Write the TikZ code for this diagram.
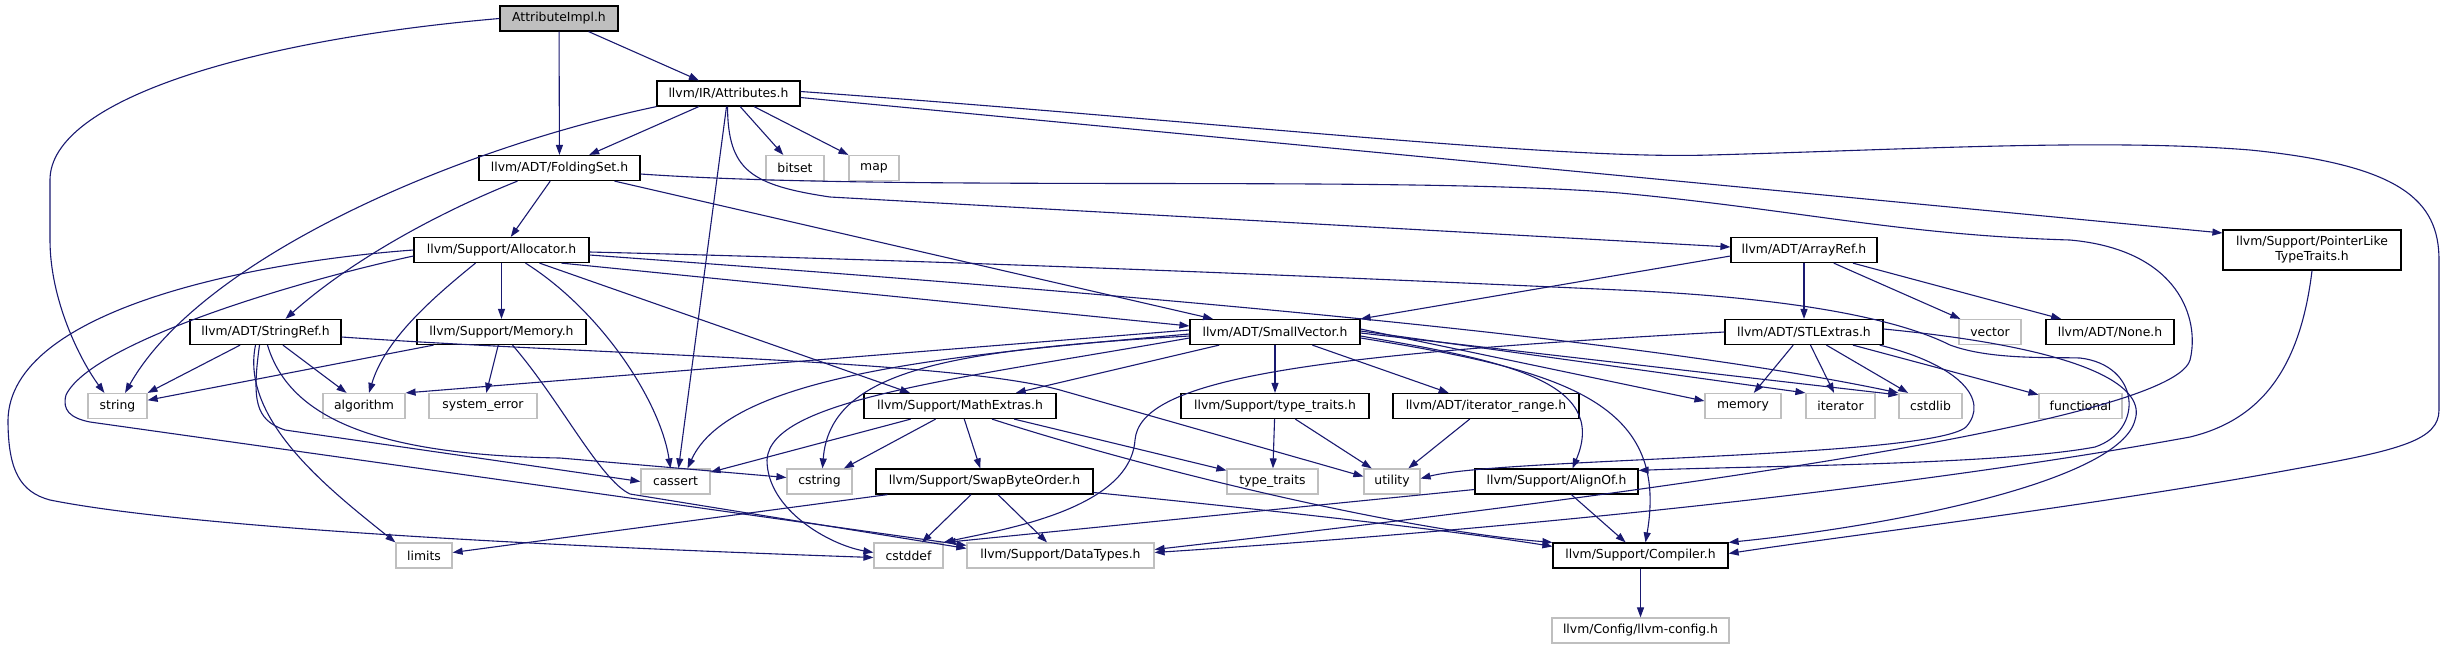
\documentclass[tikz,border=0pt]{standalone}
\usepackage{fontspec}
\setmainfont{DejaVu Sans}
\usetikzlibrary{arrows.meta}
\definecolor{edgeblue}{HTML}{191970}
\definecolor{boxgrey}{HTML}{BFBFBF}

\begin{document}
\begin{tikzpicture}[x=1pt,y=-1pt,
  every node/.style={font=\fontsize{12.4}{15}\selectfont,inner sep=0pt,align=center},
  hdr/.style={draw=black,line width=1.2pt,minimum height=25pt},
  sys/.style={draw=boxgrey,line width=1.2pt,minimum height=25pt},
  dep/.style={draw=edgeblue,line width=1.1pt,-{Triangle[length=10pt,width=7pt]}}]
\useasboundingbox (0,0) rectangle (2444,649);

% rank 0-3
\node[hdr,fill=boxgrey,minimum width=118pt] (ai) at (559,18.5) {AttributeImpl.h};
\node[hdr,minimum width=143pt] (attr) at (728.5,93.5) {llvm/IR/Attributes.h};
\node[hdr,minimum width=161pt] (fs) at (559.5,168) {llvm/ADT/FoldingSet.h};
\node[sys,minimum width=58pt] (bitset) at (795,168) {bitset};
\node[sys,minimum width=50pt] (map) at (874,168) {map};
\node[hdr,minimum width=175pt] (alloc) at (501.5,250) {llvm/Support/Allocator.h};
\node[hdr,minimum width=146pt] (ar) at (1804,250) {llvm/ADT/ArrayRef.h};
\node[hdr,minimum width=178pt,minimum height=40pt] (plt) at (2312,250) {llvm/Support/PointerLike\\TypeTraits.h};

% rank 4
\node[hdr,minimum width=151pt] (sref) at (265.5,332) {llvm/ADT/StringRef.h};
\node[hdr,minimum width=169pt] (mem) at (501.5,332) {llvm/Support/Memory.h};
\node[hdr,minimum width=170pt] (sv) at (1275,332) {llvm/ADT/SmallVector.h};
\node[hdr,minimum width=158pt] (stl) at (1804,332) {llvm/ADT/STLExtras.h};
\node[sys,minimum width=62pt] (vector) at (1990,332) {vector};
\node[hdr,minimum width=128pt] (none) at (2110,332) {llvm/ADT/None.h};

% rank 5
\node[sys,minimum width=59pt] (string) at (117.5,406) {string};
\node[sys,minimum width=82pt] (algo) at (364,406) {algorithm};
\node[sys,minimum width=108pt] (syserr) at (483,406) {system\_error};
\node[hdr,minimum width=192pt] (mathex) at (960,406) {llvm/Support/MathExtras.h};
\node[hdr,minimum width=188pt] (tth) at (1275,406) {llvm/Support/type\_traits.h};
\node[hdr,minimum width=186pt] (itr) at (1486,406) {llvm/ADT/iterator\_range.h};
\node[sys,minimum width=76pt] (memory) at (1743,406) {memory};
\node[sys,minimum width=69pt] (iterator) at (1840.5,406) {iterator};
\node[sys,minimum width=63pt] (cstdlib) at (1930.5,406) {cstdlib};
\node[sys,minimum width=83pt] (functional) at (2080.5,406) {functional};

% rank 6
\node[sys,minimum width=69pt] (cassert) at (675.5,481.5) {cassert};
\node[sys,minimum width=65pt] (cstring) at (819.5,481.5) {cstring};
\node[hdr,minimum width=217pt] (swap) at (984.5,481.5) {llvm/Support/SwapByteOrder.h};
\node[sys,minimum width=91pt] (tt) at (1272.5,481.5) {type\_traits};
\node[sys,minimum width=56pt] (utility) at (1392,481.5) {utility};
\node[hdr,minimum width=163pt] (alignof) at (1556.5,481.5) {llvm/Support/AlignOf.h};

% rank 7-8
\node[sys,minimum width=56pt] (limits) at (424,555.5) {limits};
\node[sys,minimum width=69pt] (cstddef) at (908.5,555.5) {cstddef};
\node[sys,minimum width=187pt] (dt) at (1060.5,555.5) {llvm/Support/DataTypes.h};
\node[hdr,minimum width=175pt] (comp) at (1640.5,555.5) {llvm/Support/Compiler.h};
\node[sys,minimum width=177pt] (cfg) at (1640.5,630.5) {llvm/Config/llvm-config.h};

% AttributeImpl.h
\draw[dep] (ai.west) .. controls (250,40) and (50,100) .. (50,180) -- (50,240) .. controls (50,300) and (80,360) .. (string.135);
\draw[dep] (ai) -- (fs);
\draw[dep] (ai) -- (attr);

% Attributes.h
\draw[dep] (attr.south west) .. controls (450,150) and (200,260) .. (string.60);
\draw[dep] (attr) -- (fs);
\draw[dep] ([xshift=-2pt]attr.south) -- ([xshift=3pt]cassert.north);
\draw[dep] (attr) -- (bitset);
\draw[dep] (attr) -- (map);
\draw[dep] ([xshift=-1pt]attr.south) .. controls (728,170) and (750,185) .. (830,197) -- ([yshift=3pt]ar.west);
\draw[dep] ([yshift=-4pt]attr.east) -- ([yshift=17pt]plt.west);
\draw[dep] ([yshift=2pt]attr.east) .. controls (1200,120) and (1550,160) .. (1710,155) .. controls (1900,150) and (2100,138) .. (2250,150) .. controls (2400,165) and (2439,200) .. (2439,260) -- (2439,410) .. controls (2439,440) and (2400,450) .. (2300,468) .. controls (2100,505) and (1850,535) .. ([yshift=2pt]comp.east);

% FoldingSet.h
\draw[dep] (fs) -- (alloc);
\draw[dep] ([xshift=-42pt]fs.south) .. controls (420,220) and (340,270) .. ([xshift=20pt]sref.north);
\draw[dep] ([xshift=55pt]fs.south) -- ([xshift=-62pt]sv.north);
\draw[dep] ([yshift=-6pt]fs.east) .. controls (900,192) and (1400,175) .. (1620,193) .. controls (1800,210) and (1900,235) .. (2070,240) .. controls (2180,250) and (2200,320) .. (2190,360) .. controls (2170,430) and (1500,510) .. ([yshift=6pt]dt.east);

% Allocator.h
\draw[dep] (alloc.west) .. controls (250,262) and (10,310) .. (8,420) .. controls (8,470) and (20,492) .. (50,500) .. controls (200,530) and (600,548) .. ([yshift=-2pt]cstddef.west);
\draw[dep] ([yshift=-6pt]alloc.west) .. controls (280,285) and (90,345) .. (66,395) .. controls (62,410) and (70,418) .. (90,422) -- ([yshift=-3pt]dt.north west);
\draw[dep] ([xshift=-26pt]alloc.south) .. controls (430,300) and (385,340) .. ([xshift=5pt]algo.north);
\draw[dep] (alloc) -- (mem);
\draw[dep] ([xshift=24pt]alloc.south) .. controls (600,310) and (660,400) .. ([xshift=-5pt]cassert.north);
\draw[dep] ([xshift=38pt]alloc.south) -- ([xshift=-50pt]mathex.north);
\draw[dep] ([xshift=60pt]alloc.south) -- ([yshift=6pt]sv.west);
\draw[dep] ([yshift=-5pt]alloc.east) .. controls (1000,285) and (1600,330) .. (cstdlib.north west);
\draw[dep] ([yshift=-2pt]alloc.east) .. controls (1000,262) and (1400,280) .. (1620,290) .. controls (1800,298) and (1900,320) .. (1950,345) .. controls (1990,360) and (2050,357) .. (2080,358) .. controls (2140,365) and (2145,430) .. (2095,447) .. controls (2000,465) and (1750,466) .. ([yshift=-2pt]alignof.north east);

% Memory.h
\draw[dep] (mem) -- (string);
\draw[dep] (mem) -- (syserr);
\draw[dep] ([xshift=11pt]mem.south) .. controls (560,400) and (600,480) .. (630,494) -- ([yshift=-6pt]dt.north west);

% StringRef.h
\draw[dep] (sref) -- (string.north east);
\draw[dep] (sref) -- (algo);
\draw[dep] ([xshift=-10pt]sref.south) .. controls (240,420) and (330,490) .. (limits.north west);
\draw[dep] ([xshift=-6pt]sref.south) .. controls (252,400) and (255,420) .. (285,430) -- (cassert.west);
\draw[dep] ([xshift=2pt]sref.south) .. controls (290,420) and (380,455) .. (560,458) -- ([yshift=4pt]cstring.west);
\draw[dep] ([yshift=-5pt]sref.east) .. controls (600,355) and (950,360) .. (1060,390) -- (utility.170);

% SmallVector.h
\draw[dep] ([yshift=2pt]sv.west) -- (algo.north east);
\draw[dep] ([yshift=-2pt]sv.west) .. controls (950,355) and (730,375) .. ([xshift=12pt]cassert.north);
\draw[dep] ([yshift=-4pt]sv.west) .. controls (950,350) and (830,370) .. ([xshift=3pt]cstring.north);
\draw[dep] ([yshift=-6pt]sv.west) .. controls (950,380) and (770,400) .. (767,460) .. controls (767,510) and (830,545) .. ([yshift=3pt]cstddef.west);
\draw[dep] (sv) -- (mathex);
\draw[dep] (sv) -- (tth);
\draw[dep] (sv) -- (itr);
\draw[dep] ([yshift=3pt]sv.east) -- ([yshift=5pt]memory.west);
\draw[dep] ([yshift=1pt]sv.east) -- (iterator.north west);
\draw[dep] ([yshift=-1pt]sv.east) -- ([yshift=-2pt]cstdlib.north west);
\draw[dep] ([yshift=-4pt]sv.east) .. controls (1500,360) and (1610,380) .. ([xshift=16pt]alignof.north);
\draw[dep] ([yshift=-6pt]sv.east) .. controls (1560,370) and (1670,400) .. ([xshift=5pt]comp.north);

% ArrayRef.h
\draw[dep] ([yshift=-6pt]ar.west) -- (sv.north east);
\draw[dep] (ar) -- (stl);
\draw[dep] (ar) -- (vector);
\draw[dep] (ar) -- (none);

% STLExtras.h
\draw[dep] (stl) -- (memory);
\draw[dep] (stl) -- (iterator);
\draw[dep] (stl) -- (cstdlib);
\draw[dep] (stl) -- (functional);
\draw[dep] ([xshift=-4pt]stl.south east) .. controls (1960,365) and (1990,400) .. (1966,427) .. controls (1930,458) and (1500,458) .. ([yshift=3pt]utility.east);
\draw[dep] (stl.west) .. controls (1300,355) and (1140,380) .. (1135,440) .. controls (1130,510) and (1000,530) .. (cstddef.north east);
\draw[dep] ([yshift=3pt]stl.east) .. controls (2100,350) and (2145,390) .. (2135,420) .. controls (2120,480) and (1900,525) .. (comp.north east);

% MathExtras.h
\draw[dep] (mathex) -- (cassert);
\draw[dep] (mathex) -- (cstring);
\draw[dep] (mathex) -- (swap);
\draw[dep] (mathex) -- (tt);
\draw[dep] ([xshift=32pt]mathex.south) .. controls (1150,470) and (1400,530) .. (comp.north west);

% type_traits.h, iterator_range.h
\draw[dep] (tth) -- (tt);
\draw[dep] (tth) -- (utility);
\draw[dep] (itr) -- (utility);

% SwapByteOrder.h
\draw[dep] ([xshift=-97pt]swap.south) -- ([yshift=3pt]limits.east);
\draw[dep] (swap) -- (cstddef);
\draw[dep] (swap) -- (dt);
\draw[dep] ([yshift=-11pt]swap.east) .. controls (1250,508) and (1450,530) .. ([yshift=-4pt]comp.north west);

% AlignOf.h
\draw[dep] ([yshift=-8pt]alignof.west) -- ([xshift=2pt]cstddef.north east);
\draw[dep] (alignof) -- (comp);

% PointerLikeTypeTraits.h
\draw[dep] (plt.south) .. controls (2300,370) and (2260,420) .. (2190,437) .. controls (1900,490) and (1500,530) .. ([yshift=3pt]dt.east);

% Compiler.h
\draw[dep] (comp) -- (cfg);
\end{tikzpicture}
\end{document}
